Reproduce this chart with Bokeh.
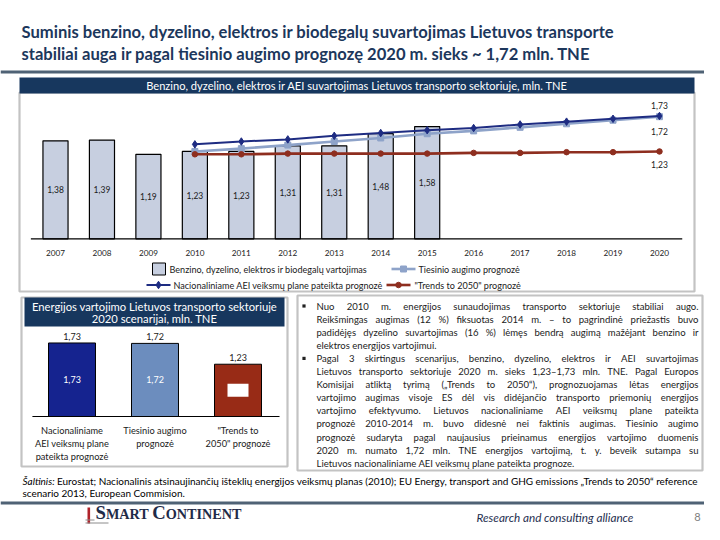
import os, glob, subprocess
from bokeh.plotting import figure
from bokeh.models import Range1d
from bokeh.core.properties import value
from bokeh.embed import file_html
from bokeh.resources import INLINE

try:
    from PIL import ImageFont
except Exception:
    ImageFont = None

# ---------------- data ----------------
years = ["2007", "2008", "2009", "2010", "2011", "2012", "2013",
         "2014", "2015", "2016", "2017", "2018", "2019", "2020"]
actual_years = ["2007", "2008", "2009", "2010", "2011", "2012", "2013", "2014", "2015"]
actual_values = [1.38, 1.39, 1.19, 1.23, 1.23, 1.31, 1.31, 1.48, 1.58]
actual_labels = ["1,38", "1,39", "1,19", "1,23", "1,23", "1,31", "1,31", "1,48", "1,58"]
forecast_years = ["2010", "2011", "2012", "2013", "2014", "2015",
                  "2016", "2017", "2018", "2019", "2020"]
national_values = [1.33, 1.37, 1.40, 1.45, 1.49, 1.53, 1.56, 1.61, 1.65, 1.69, 1.73]
linear_values = [1.23, 1.27, 1.32, 1.37, 1.42, 1.48, 1.52, 1.57, 1.62, 1.67, 1.72]
trends_values = [1.19, 1.19, 1.20, 1.20, 1.20, 1.20, 1.21, 1.21, 1.22, 1.22, 1.23]
end_labels = ["1,73", "1,72", "1,23"]
series_names = ["Benzino, dyzelino, elektros ir biodegalų vartojimas",
                "Tiesinio augimo prognozė",
                "Nacionaliniame AEI veiksmų plane pateikta prognozė",
                "\"Trends to 2050\" prognozė"]

scenario_labels = [["Nacionaliniame", "AEI veiksmų plane", "pateikta prognozė"],
                   ["Tiesinio augimo", "prognozė"],
                   ["\"Trends to", "2050\" prognozė"]]
scenario_values = [1.73, 1.72, 1.23]
scenario_text = ["1,73", "1,72", "1,23"]

title_lines = ["Suminis benzino, dyzelino, elektros ir biodegalų suvartojimas Lietuvos transporte",
               "stabiliai auga ir pagal tiesinio augimo prognozę 2020 m. sieks ~ 1,72 mln. TNE"]
top_chart_title = "Benzino, dyzelino, elektros ir AEI suvartojimas Lietuvos transporto sektoriuje, mln. TNE"
left_chart_title = ["Energijos vartojimo Lietuvos transporto sektoriuje", "2020 scenarijai, mln. TNE"]
body_lines = [
    "Nuo 2010 m. energijos sunaudojimas transporto sektoriuje stabiliai augo.",
    "Reikšmingas augimas (12 %) fiksuotas 2014 m. – to pagrindinė priežastis buvo",
    "padidėjęs dyzelino suvartojimas (16 %) lėmęs bendrą augimą mažėjant benzino ir",
    "elektros energijos vartojimui.",
    "Pagal 3 skirtingus scenarijus, benzino, dyzelino, elektros ir AEI suvartojimas",
    "Lietuvos transporto sektoriuje 2020 m. sieks 1,23–1,73 mln. TNE. Pagal Europos",
    "Komisijai atliktą tyrimą („Trends to 2050“), prognozuojamas lėtas energijos",
    "vartojimo augimas visoje ES dėl vis didėjančio transporto priemonių energijos",
    "vartojimo efektyvumo. Lietuvos nacionaliniame AEI veiksmų plane pateikta",
    "prognozė 2010-2014 m. buvo didesnė nei faktinis augimas. Tiesinio augimo",
    "prognozė sudaryta pagal naujausius prieinamus energijos vartojimo duomenis",
    "2020 m. numato 1,72 mln. TNE energijos vartojimą, t. y. beveik sutampa su",
    "Lietuvos nacionaliniame AEI veiksmų plane pateikta prognoze.",
]
paragraph_ends = [3, 12]
bullet_lines = [0, 4]
source_italic = "Šaltinis:"
source_lines = ["Eurostat; Nacionalinis atsinaujinančių išteklių energijos veiksmų planas (2010); EU Energy, transport and GHG emissions „Trends to 2050“ reference",
                "scenario 2013, European Commision."]
footer_tagline = "Research and consulting alliance"
page_number = "8"

# ---------------- styles ----------------
FONT = "Lato"
NAVY_TXT = "#1C375C"
BAND = "#17375E"
RULE = "#4F6275"
BORDER = "#C3C3C3"
BAR_FILL = "#C7CFE0"
C_NAT = "#1E2C82"
C_LIN = "#8EA3C9"
C_TR = "#8E2E1F"
SC_COLORS = ["#15238F", "#6C8DBE", "#982B16"]
TXT = "#1A1A1A"


def font_file(family, style, names):
    for n in names:
        for root in ["/usr/share/fonts", "/usr/local/share/fonts",
                     os.path.expanduser("~/.fonts"), os.path.expanduser("~/.local/share/fonts")]:
            hits = glob.glob(os.path.join(root, "**", n), recursive=True)
            if hits:
                return hits[0]
    try:
        out = subprocess.run(["fc-match", "-f", "%{file}", f"{family}:style={style}"],
                             capture_output=True, text=True, timeout=5).stdout.strip()
        if out and family.split()[0].lower() in os.path.basename(out).lower():
            return out
    except Exception:
        pass
    return None


F_REG = font_file("Lato", "Regular", ["Lato-Regular.ttf"])
F_BOLD = font_file("Lato", "Bold", ["Lato-Bold.ttf"])
F_IT = font_file("Lato", "Italic", ["Lato-Italic.ttf"])
F_SERIF = font_file("Liberation Serif", "Bold", ["LiberationSerif-Bold.ttf"])

_fonts = {}


def tw(txt, path, size, ratio=0.47):
    if path and ImageFont is not None:
        try:
            if path not in _fonts:
                _fonts[path] = ImageFont.truetype(path, 200)
            return _fonts[path].getlength(txt) * size / 200.0
        except Exception:
            pass
    return len(txt) * size * ratio


def fit(txt, path, target, ratio=0.47):
    return target / tw(txt, path, 1.0, ratio)


def px(s):
    return f"{s:.2f}px"


# ---------------- canvas (1 unit = 1 picture pixel) ----------------
W, H = 704, 524
p = figure(width=W, height=H, x_range=Range1d(0, W), y_range=Range1d(H, 0),
           output_backend="svg", toolbar_location=None, min_border=0,
           x_axis_type=None, y_axis_type=None)
p.outline_line_color = None
p.background_fill_color = "white"
p.border_fill_color = "white"

# scales for the two charts (pixel mapping: x = X0 + DX*i ; y = Y0 - K*v)
TX0, TDX, TY0, TK = 55.0, 46.46, 238.3, 71.0
BX0, BDX, BY0, BK = 71.5, 83.0, 416.0, 42.5
p.extra_x_ranges = {"top": Range1d((0 - TX0) / TDX, (W - TX0) / TDX),
                    "bot": Range1d((0 - BX0) / BDX, (W - BX0) / BDX)}
p.extra_y_ranges = {"top": Range1d((TY0 - H) / TK, (TY0 - 0) / TK),
                    "bot": Range1d((BY0 - H) / BK, (BY0 - 0) / BK)}


def txt(x, y, t, size, color=TXT, align="left", style="normal", baseline="middle",
        font=FONT, xr="default", yr="default"):
    p.text(x=x, y=y, text=t, text_font=value(font), text_font_size=px(size),
           text_color=color, text_align=align, text_baseline=baseline,
           text_font_style=style, x_range_name=xr, y_range_name=yr)


# ---------------- title ----------------
ts = min(fit(title_lines[0], F_BOLD, 592, 0.5), fit(title_lines[1], F_BOLD, 575, 0.5))
txt([21], [31.5], [title_lines[0]], ts, NAVY_TXT, style="bold")
txt([21], [53], [title_lines[1]], ts, NAVY_TXT, style="bold")
p.line(x=[0, 720], y=[71.5, 71.5], line_color=RULE, line_width=3)

# ---------------- top chart ----------------
p.quad(left=[19], right=[694], top=[92], bottom=[291], fill_color=None,
       line_color=BORDER, line_width=2.2)
p.quad(left=[19], right=[694], top=[77], bottom=[93], fill_color=BAND, line_color=None)
txt([356.5], [85.2], [top_chart_title], fit(top_chart_title, F_REG, 421), "white", align="center")

yi = {y: i for i, y in enumerate(years)}
ax = [yi[y] for y in actual_years]
fx = [yi[y] for y in forecast_years]

p.vbar(x=ax, top=actual_values, bottom=0, width=0.54, fill_color=BAR_FILL,
       line_color="black", line_width=1.2, x_range_name="top", y_range_name="top")
p.line(x=[-0.53, 13.49], y=[0, 0], line_color="black", line_width=1.2,
       x_range_name="top", y_range_name="top")
txt(ax, [v / 2 for v in actual_values], actual_labels, 8.5, xr="top", yr="top", align="center")

p.line(x=fx, y=linear_values, line_color=C_LIN, line_width=2.6, x_range_name="top", y_range_name="top")
p.scatter(x=fx, y=linear_values, marker="square", size=6, fill_color=C_LIN, line_color=C_LIN,
          x_range_name="top", y_range_name="top")
p.line(x=fx, y=national_values, line_color=C_NAT, line_width=2, x_range_name="top", y_range_name="top")
p.scatter(x=fx, y=national_values, marker="diamond", size=7.5, fill_color=C_NAT, line_color=C_NAT,
          x_range_name="top", y_range_name="top")
p.line(x=fx, y=trends_values, line_color=C_TR, line_width=2.6, x_range_name="top", y_range_name="top")
p.scatter(x=fx, y=trends_values, marker="circle", size=5.5, fill_color=C_TR, line_color=C_TR,
          x_range_name="top", y_range_name="top")

last = len(forecast_years) - 1
txt([fx[last]] * 3,
    [national_values[last] + 10.5 / TK, linear_values[last] - 14.5 / TK, trends_values[last] - 13 / TK],
    end_labels, 8.5, xr="top", yr="top", align="center")

txt(list(range(len(years))), [252.8] * len(years), years, 8.2, xr="top", align="center")

# legend
ls = min(fit(series_names[0], F_REG, 204), fit(series_names[2], F_REG, 209))
p.quad(left=[152], right=[165], top=[262.5], bottom=[274.5], fill_color=BAR_FILL,
       line_color="black", line_width=1)
txt([169], [268.5], [series_names[0]], ls)
p.line(x=[391, 415], y=[268.5, 268.5], line_color=C_LIN, line_width=2.6)
p.scatter(x=[403], y=[268.5], marker="square", size=6, fill_color=C_LIN, line_color=C_LIN)
txt([418], [268.5], [series_names[1]], ls)
p.line(x=[146, 170], y=[284.5, 284.5], line_color=C_NAT, line_width=2)
p.scatter(x=[158], y=[284.5], marker="diamond", size=7.5, fill_color=C_NAT, line_color=C_NAT)
txt([173], [284.5], [series_names[2]], ls)
p.line(x=[386, 410], y=[284.5, 284.5], line_color=C_TR, line_width=2.6)
p.scatter(x=[398], y=[284.5], marker="circle", size=5.5, fill_color=C_TR, line_color=C_TR)
txt([414], [284.5], [series_names[3]], ls)

# ---------------- bottom-left chart ----------------
p.quad(left=[21], right=[287], top=[297], bottom=[466], fill_color=None,
       line_color=BORDER, line_width=2.2)
p.quad(left=[24], right=[284], top=[297], bottom=[326], fill_color=BAND, line_color=None)
lts = fit(left_chart_title[0], F_REG, 245)
txt([154], [305.5], [left_chart_title[0]], lts, "white", align="center")
txt([154], [317.5], [left_chart_title[1]], lts, "white", align="center")

sx = list(range(len(scenario_values)))
p.vbar(x=sx, top=scenario_values, bottom=0, width=0.566, fill_color=SC_COLORS,
       line_color="black", line_width=1, x_range_name="bot", y_range_name="bot")
p.line(x=[-0.477, 2.5], y=[0, 0], line_color="black", line_width=1.2,
       x_range_name="bot", y_range_name="bot")
txt(sx, [v + 6.5 / BK for v in scenario_values], scenario_text, 9, xr="bot", yr="bot", align="center")
txt(sx[:2], [v / 2 for v in scenario_values[:2]], scenario_text[:2], 9, "white",
    xr="bot", yr="bot", align="center")
p.rect(x=[sx[2]], y=[scenario_values[2] / 2], width=21, height=13, width_units="screen",
       height_units="screen", fill_color="white", line_color=None,
       x_range_name="bot", y_range_name="bot")
cs = fit(scenario_labels[0][0], F_REG, 62)
for i, lines in enumerate(scenario_labels):
    txt([i] * len(lines), [430 + 13 * j for j in range(len(lines))], lines, cs,
        xr="bot", align="center")

# ---------------- right text box ----------------
p.quad(left=[297], right=[702], top=[295], bottom=[470], fill_color=None,
       line_color=BORDER, line_width=2.2)
XL, XR = 316.0, 698.0
bs = (fit(body_lines[12], F_REG, 256) + fit(body_lines[3], F_REG, 121)) / 2
max_nat = max(tw(l, F_REG, bs) for l in body_lines)
if max_nat > (XR - XL) - 2:
    bs *= ((XR - XL) - 2) / max_nat
for li, line in enumerate(body_lines):
    y = 305.5 + 13.1 * li
    if li in paragraph_ends:
        txt([XL], [y], [line], bs, "#222222")
    else:
        words = line.split(" ")
        ws = [tw(w, F_REG, bs) for w in words]
        gap = (XR - XL - sum(ws)) / (len(words) - 1)
        xs, cur = [], XL
        for w in ws:
            xs.append(cur)
            cur += w + gap
        txt(xs, [y] * len(words), words, bs, "#222222")
p.scatter(x=[303.5] * len(bullet_lines), y=[305.5 + 13.1 * b for b in bullet_lines],
          marker="square", size=3.2, fill_color="#222222", line_color=None)

# ---------------- source + footer ----------------
wi = tw(source_italic + " ", F_IT, 1.0)
wr = tw(source_lines[0], F_REG, 1.0)
ss = 676 / (wi + wr)
txt([22], [480], [source_italic], ss, "black", style="italic")
txt([22 + wi * ss], [480], [source_lines[0]], ss, "black")
txt([22], [492.5], [source_lines[1]], ss, "black")
p.line(x=[0, 720], y=[502.5, 502.5], line_color=RULE, line_width=3)

# logo
p.quad(left=[87], right=[89.6], top=[507], bottom=[523], fill_color="#B0232A", line_color=None)
p.line(x=[85, 94], y=[519.5, 519.5], line_color="#8C8C8C", line_width=1)
p.line(x=[85, 108], y=[522.5, 522.5], line_color="#8C8C8C", line_width=1)
pieces = [("S", 1.0), ("MART ", 0.76), ("C", 1.0), ("ONTINENT", 0.76)]
unit = sum(tw(t, F_SERIF, r, 0.68) for t, r in pieces)
B = 146 / unit
base_y = 517.5
cx = 95.0
for t, r in pieces:
    s = B * r
    txt([cx], [base_y - 0.3 * s], [t.strip()], s, "#1F2B48", style="bold", font="Liberation Serif")
    cx += tw(t, F_SERIF, s, 0.68)

txt([476], [516], [footer_tagline], fit(footer_tagline, F_IT, 157), "#1F3050", style="italic")
txt([697], [516], [page_number], 11, "#808080", align="center")

open("out.html", "w").write(file_html(p, INLINE))
